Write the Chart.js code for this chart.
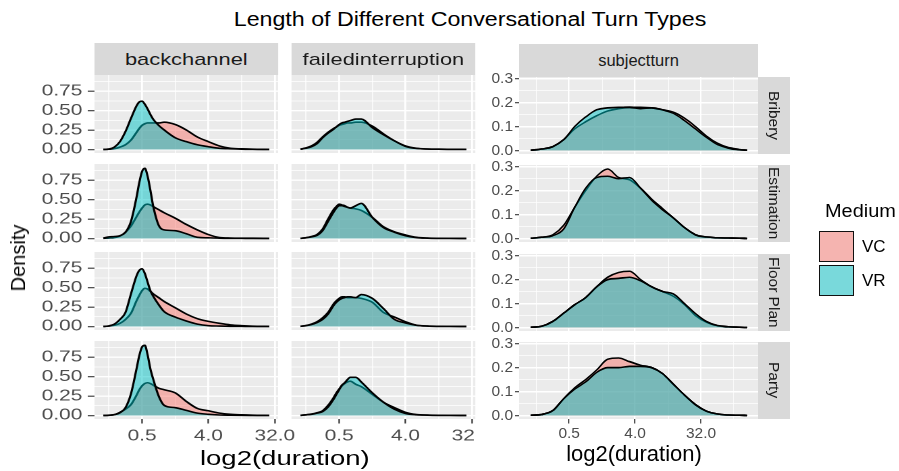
<!DOCTYPE html>
<html>
<head>
<meta charset="utf-8">
<script src="https://cdn.jsdelivr.net/npm/chart.js@4.4.0/dist/chart.umd.min.js"></script>
<style>
  body { margin: 0; background: #fff; width: 899px; height: 471px; overflow: hidden; position: relative;
         font-family: 'Liberation Sans', Arial, sans-serif; }
  canvas { position: absolute; }
  .txt { position: absolute; white-space: nowrap; line-height: 1; }
  .strip { position: absolute; background: #D9D9D9; color: #1A1A1A; display: flex; align-items: center;
           justify-content: center; white-space: nowrap; overflow: hidden; }
  #left { position: absolute; left: 0; top: 0; width: 360px; height: 471px; transform-origin: 0 0; transform: scaleX(1.35); }
  #right { position: absolute; left: 0; top: 0; width: 899px; height: 471px; }
  .key { position: absolute; left: 819px; width: 35px; height: 31px; box-sizing: border-box; border: 1.3px solid #111; background: #F2F2F2; }
</style>
</head>
<body>
<div class="txt" id="title" style="left:470px;top:9.5px;font-size:19.5px;color:#000;transform:translateX(-50%) scaleX(1.19);">Length of Different Conversational Turn Types</div>
<div id="left"></div>
<div id="right"></div>
<div class="txt" style="left:18px;top:258px;font-size:20px;color:#000;transform:translate(-50%,-50%) rotate(-90deg);">Density</div>
<div class="txt" style="left:825px;top:202.5px;font-size:17.5px;color:#000;transform-origin:0 0;transform:scaleX(1.14);">Medium</div>
<div class="key" style="top:231px;"><div style="width:100%;height:100%;background:rgba(248,118,109,0.5);"></div></div>
<div class="key" style="top:265px;"><div style="width:100%;height:100%;background:rgba(0,191,196,0.5);"></div></div>
<div class="txt" style="left:862px;top:238px;font-size:17px;color:#000;">VC</div>
<div class="txt" style="left:862px;top:272px;font-size:17px;color:#000;">VR</div>
<script>
// facets
const TURN_TYPES = ['backchannel', 'failedinterruption', 'subjectturn'];
const TASKS = ['Bribery', 'Estimation', 'Floor Plan', 'Party'];
const MEDIA = ['VC', 'VR'];

// x values are log2(duration)
const X_LEFT = [-2.75, -2.5, -2.25, -2, -1.75, -1.5, -1.25, -1.125, -1, -0.875, -0.75, -0.625, -0.5, -0.25, 0, 0.5, 1, 1.5, 2, 2.5, 3, 3.5, 4, 4.75];
const X_RIGHT = [-2.75, -2.25, -1.75, -1.25, -0.75, -0.25, 0.25, 0.75, 1.25, 1.75, 2.25, 2.75, 3.25, 3.75, 4.25, 4.75, 5.25, 5.75, 6.25, 6.75, 7.1];

// backchannel densities
const bcBriberyVC = [0, 0.003, 0.01, 0.03, 0.06, 0.12, 0.22, 0.27, 0.31, 0.33, 0.34, 0.34, 0.34, 0.34, 0.35, 0.32, 0.25, 0.16, 0.10, 0.045, 0.015, 0.008, 0.004, 0.001];
const bcBriberyVR = [0, 0.005, 0.03, 0.10, 0.23, 0.40, 0.56, 0.61, 0.62, 0.58, 0.52, 0.45, 0.39, 0.31, 0.25, 0.15, 0.10, 0.06, 0.035, 0.015, 0.008, 0.004, 0.002, 0];
const bcEstimationVC = [0.002, 0.005, 0.01, 0.03, 0.08, 0.16, 0.28, 0.34, 0.39, 0.43, 0.44, 0.43, 0.41, 0.37, 0.33, 0.26, 0.18, 0.11, 0.05, 0.012, 0.006, 0.004, 0.003, 0.001];
const bcEstimationVR = [0.005, 0.02, 0.025, 0.035, 0.08, 0.22, 0.53, 0.72, 0.86, 0.90, 0.80, 0.62, 0.42, 0.17, 0.11, 0.10, 0.06, 0.015, 0.008, 0.004, 0.002, 0.001, 0, 0];
const bcFloorPlanVC = [0, 0.004, 0.015, 0.04, 0.09, 0.17, 0.33, 0.40, 0.46, 0.49, 0.48, 0.45, 0.42, 0.37, 0.32, 0.24, 0.16, 0.10, 0.065, 0.04, 0.02, 0.01, 0.004, 0.001];
const bcFloorPlanVR = [0, 0.008, 0.03, 0.09, 0.18, 0.42, 0.65, 0.72, 0.74, 0.68, 0.57, 0.46, 0.39, 0.28, 0.19, 0.12, 0.07, 0.03, 0.01, 0.005, 0.002, 0.001, 0, 0];
const bcPartyVC = [0, 0.002, 0.01, 0.04, 0.08, 0.14, 0.26, 0.33, 0.38, 0.41, 0.42, 0.41, 0.39, 0.35, 0.33, 0.29, 0.18, 0.09, 0.06, 0.03, 0.015, 0.008, 0.004, 0.001];
const bcPartyVR = [0, 0.003, 0.01, 0.035, 0.10, 0.28, 0.60, 0.77, 0.88, 0.90, 0.78, 0.60, 0.47, 0.25, 0.13, 0.10, 0.065, 0.03, 0.015, 0.006, 0.003, 0.001, 0, 0];

// failedinterruption densities
const fiBriberyVC = [0.003, 0.02, 0.045, 0.09, 0.16, 0.22, 0.27, 0.29, 0.31, 0.32, 0.33, 0.34, 0.34, 0.35, 0.35, 0.30, 0.20, 0.11, 0.045, 0.015, 0.006, 0.003, 0.002, 0.001];
const fiBriberyVR = [0.003, 0.015, 0.035, 0.075, 0.15, 0.21, 0.26, 0.29, 0.32, 0.34, 0.35, 0.36, 0.37, 0.39, 0.39, 0.28, 0.19, 0.11, 0.04, 0.012, 0.005, 0.003, 0.002, 0.001];
const fiEstimationVC = [0.002, 0.01, 0.025, 0.05, 0.12, 0.25, 0.37, 0.41, 0.44, 0.43, 0.42, 0.40, 0.39, 0.38, 0.36, 0.27, 0.15, 0.085, 0.045, 0.015, 0.005, 0.002, 0.001, 0];
const fiEstimationVR = [0.002, 0.008, 0.02, 0.04, 0.10, 0.22, 0.34, 0.39, 0.42, 0.42, 0.41, 0.40, 0.39, 0.42, 0.45, 0.27, 0.14, 0.08, 0.035, 0.01, 0.004, 0.002, 0.001, 0];
const fiFloorPlanVC = [0.002, 0.012, 0.03, 0.06, 0.11, 0.18, 0.29, 0.33, 0.36, 0.38, 0.38, 0.37, 0.37, 0.37, 0.36, 0.31, 0.18, 0.12, 0.06, 0.015, 0.005, 0.002, 0.001, 0];
const fiFloorPlanVR = [0.002, 0.01, 0.025, 0.05, 0.09, 0.16, 0.27, 0.31, 0.34, 0.36, 0.37, 0.38, 0.38, 0.37, 0.41, 0.36, 0.23, 0.09, 0.045, 0.015, 0.005, 0.002, 0.001, 0];
const fiPartyVC = [0.002, 0.008, 0.018, 0.035, 0.06, 0.13, 0.23, 0.29, 0.34, 0.38, 0.41, 0.43, 0.44, 0.40, 0.37, 0.27, 0.17, 0.10, 0.04, 0.012, 0.005, 0.002, 0.001, 0];
const fiPartyVR = [0.002, 0.008, 0.015, 0.03, 0.05, 0.11, 0.21, 0.27, 0.33, 0.39, 0.42, 0.46, 0.49, 0.49, 0.43, 0.29, 0.17, 0.08, 0.025, 0.008, 0.004, 0.002, 0.001, 0];

// subjectturn densities
const stBriberyVC = [0.001, 0.006, 0.016, 0.045, 0.09, 0.12, 0.145, 0.165, 0.175, 0.18, 0.18, 0.178, 0.17, 0.16, 0.135, 0.10, 0.06, 0.03, 0.012, 0.004, 0.001];
const stBriberyVR = [0.001, 0.006, 0.016, 0.045, 0.10, 0.14, 0.17, 0.178, 0.18, 0.18, 0.175, 0.178, 0.17, 0.155, 0.125, 0.09, 0.055, 0.025, 0.01, 0.003, 0.001];
const stEstimationVC = [0.001, 0.005, 0.015, 0.055, 0.13, 0.20, 0.26, 0.29, 0.255, 0.245, 0.21, 0.165, 0.125, 0.085, 0.045, 0.016, 0.006, 0.003, 0.002, 0.001, 0];
const stEstimationVR = [0.001, 0.005, 0.012, 0.04, 0.13, 0.21, 0.255, 0.26, 0.25, 0.255, 0.21, 0.16, 0.12, 0.085, 0.045, 0.015, 0.006, 0.003, 0.002, 0.001, 0];
const stFloorPlanVC = [0.001, 0.005, 0.025, 0.06, 0.095, 0.125, 0.17, 0.21, 0.23, 0.235, 0.20, 0.17, 0.15, 0.13, 0.095, 0.05, 0.022, 0.007, 0.003, 0.001, 0];
const stFloorPlanVR = [0.001, 0.005, 0.025, 0.06, 0.095, 0.125, 0.17, 0.20, 0.205, 0.21, 0.195, 0.17, 0.15, 0.14, 0.10, 0.058, 0.025, 0.008, 0.003, 0.001, 0];
const stPartyVC = [0.001, 0.004, 0.02, 0.07, 0.115, 0.15, 0.19, 0.235, 0.24, 0.225, 0.21, 0.2, 0.175, 0.13, 0.085, 0.045, 0.018, 0.006, 0.002, 0.001, 0];
const stPartyVR = [0.001, 0.004, 0.02, 0.07, 0.11, 0.14, 0.18, 0.20, 0.20, 0.205, 0.205, 0.2, 0.175, 0.13, 0.085, 0.045, 0.018, 0.006, 0.002, 0.001, 0];

// ticks
const X_MAJOR = [-1, 2, 5];            // 0.5, 4.0, 32.0
const X_GRID = [-2.5, -1, 0.5, 2, 3.5, 5, 6.5];
const LEFT_Y_MAJOR = [0, 0.25, 0.5, 0.75];
const LEFT_Y_GRID = [0, 0.125, 0.25, 0.375, 0.5, 0.625, 0.75, 0.875];
const RIGHT_Y_MAJOR = [0, 0.1, 0.2, 0.3];
const RIGHT_Y_GRID = [0, 0.05, 0.1, 0.15, 0.2, 0.25, 0.3];

const SERIES = {
  backchannel: [[bcBriberyVC, bcBriberyVR], [bcEstimationVC, bcEstimationVR], [bcFloorPlanVC, bcFloorPlanVR], [bcPartyVC, bcPartyVR]],
  failedinterruption: [[fiBriberyVC, fiBriberyVR], [fiEstimationVC, fiEstimationVR], [fiFloorPlanVC, fiFloorPlanVR], [fiPartyVC, fiPartyVR]],
  subjectturn: [[stBriberyVC, stBriberyVR], [stEstimationVC, stEstimationVR], [stFloorPlanVC, stFloorPlanVR], [stPartyVC, stPartyVR]]
};

const FONT = "'Liberation Sans', Arial, sans-serif";
const FILLS = ['rgba(248,118,109,0.5)', 'rgba(0,191,196,0.5)'];
const PADV = 9; // room above/below each panel so edge tick labels are not cut

// grey panel background
const panelBg = {
  id: 'panelBg',
  beforeDraw(chart) {
    const { ctx, chartArea: a } = chart;
    ctx.save();
    ctx.fillStyle = '#EBEBEB';
    ctx.fillRect(a.left, a.top, a.right - a.left, a.bottom - a.top);
    ctx.restore();
  }
};

const isIn = (v, arr) => arr.some(a => Math.abs(a - v) < 1e-9);

const gridOpts = (major, showTicks, tickLen) => ({
  color: '#FFFFFF',
  lineWidth: c => (c.tick && isIn(c.tick.value, major)) ? 1.4 : 0.7,
  drawTicks: showTicks,
  tickLength: tickLen,
  tickWidth: 1.1,
  tickColor: c => (c.tick && isIn(c.tick.value, major)) ? '#333333' : 'rgba(0,0,0,0)'
});

const buildPanel = (host, p) => {
  const cv = document.createElement('canvas');
  cv.width = p.w;
  cv.height = p.h + 2 * PADV;
  cv.style.left = p.left + 'px';
  cv.style.top = (p.top - PADV) + 'px';
  host.appendChild(cv);

  const datasets = MEDIA.map((m, k) => ({
    label: m,
    data: p.xs.map((x, i) => ({ x: x, y: p.ys[k][i] })),
    borderColor: '#000000',
    borderWidth: 1.6,
    backgroundColor: FILLS[k],
    fill: 'origin',
    pointRadius: 0,
    cubicInterpolationMode: 'monotone',
    order: 2 - k
  }));

  new Chart(cv, {
    type: 'line',
    data: { datasets: datasets },
    options: {
      responsive: false,
      animation: false,
      events: [],
      devicePixelRatio: p.dpr,
      layout: { autoPadding: false, padding: { left: 0, top: PADV, bottom: PADV, right: p.padRight } },
      plugins: { legend: { display: false }, tooltip: { enabled: false } },
      scales: {
        x: {
          type: 'linear', min: p.xMin, max: p.xMax,
          afterBuildTicks: s => { s.ticks = X_GRID.filter(v => v > p.xMin && v < p.xMax).map(v => ({ value: v })); },
          afterFit: s => { s.height = p.xAxisH; s.paddingLeft = 0; s.paddingRight = 0; },
          border: { display: false },
          grid: gridOpts(X_MAJOR, p.showX, 4.5),
          ticks: {
            display: p.showX, autoSkip: false, maxRotation: 0, minRotation: 0, padding: p.xPad,
            color: '#4D4D4D', font: { family: FONT, size: p.fontSize },
            callback: v => isIn(v, X_MAJOR) ? Math.pow(2, v).toFixed(1) : ''
          }
        },
        y: {
          type: 'linear', min: p.yMin, max: p.yMax,
          afterBuildTicks: s => { s.ticks = p.yGrid.map(v => ({ value: v })); },
          afterFit: s => { s.width = p.yAxisW; s.paddingTop = 0; s.paddingBottom = 0; },
          border: { display: false },
          grid: gridOpts(p.yMajor, p.showY, p.yTickLen),
          ticks: {
            display: p.showY, autoSkip: false, padding: p.yPad,
            color: '#4D4D4D', font: { family: FONT, size: p.fontSize },
            callback: v => isIn(v, p.yMajor) ? v.toFixed(p.yDigits) : ''
          }
        }
      }
    },
    plugins: [panelBg]
  });
};

const addStrip = (host, text, css) => {
  const d = document.createElement('div');
  d.className = 'strip';
  d.textContent = text;
  Object.assign(d.style, css);
  host.appendChild(d);
  return d;
};

const addText = (host, text, css) => {
  const d = document.createElement('div');
  d.className = 'txt';
  d.textContent = text;
  Object.assign(d.style, css);
  host.appendChild(d);
};

// left grid (backchannel, failedinterruption), drawn inside a horizontally stretched block
const left = document.getElementById('left');
const LEFT_TOPS = [75, 164, 252, 341];
const LEFT_H = 78, LEFT_W = 136;
const LEFT_COLS = [70, 216];

[0, 1].forEach(c => {
  addStrip(left, TURN_TYPES[c], { left: LEFT_COLS[c] + 'px', top: '43px', width: LEFT_W + 'px', height: '32px', fontSize: '16.2px' });
  TASKS.forEach((t, r) => {
    const bottom = r === TASKS.length - 1;
    const yAxisW = c === 0 ? LEFT_COLS[0] : 0;
    const padRight = (bottom && c === 0) ? 16 : 0;
    buildPanel(left, {
      left: LEFT_COLS[c] - yAxisW, top: LEFT_TOPS[r],
      w: yAxisW + LEFT_W + padRight, h: LEFT_H + (bottom ? 30 : 0),
      yAxisW: yAxisW, xAxisH: bottom ? 30 : 0, padRight: padRight,
      xMin: -3.15, xMax: 5.15, yMin: -0.0455, yMax: 0.956,
      yGrid: LEFT_Y_GRID, yMajor: LEFT_Y_MAJOR, yDigits: 2,
      showX: bottom, showY: c === 0, yTickLen: 5, yPad: 4, xPad: 3.5,
      fontSize: 15.5, dpr: 2,
      xs: X_LEFT, ys: SERIES[TURN_TYPES[c]][r]
    });
  });
});
addText(left, 'log2(duration)', { left: '61px', width: '300px', textAlign: 'center', top: '447.5px', fontSize: '20.4px', color: '#000' });

// right grid (subjectturn)
const right = document.getElementById('right');
const RIGHT_TOPS = [77, 165, 254, 342];
const RIGHT_H = 77, RIGHT_W = 239, RIGHT_X = 519;

addStrip(right, TURN_TYPES[2], { left: RIGHT_X + 'px', top: '44px', width: RIGHT_W + 'px', height: '33px', fontSize: '16.5px' });
TASKS.forEach((t, r) => {
  const bottom = r === TASKS.length - 1;
  addStrip(right, t, { left: (RIGHT_X + RIGHT_W) + 'px', top: RIGHT_TOPS[r] + 'px', width: '32px', height: RIGHT_H + 'px',
    fontSize: '15.5px', writingMode: 'vertical-rl' });
  buildPanel(right, {
    left: RIGHT_X - 40, top: RIGHT_TOPS[r],
    w: 40 + RIGHT_W, h: RIGHT_H + (bottom ? 30 : 0),
    yAxisW: 40, xAxisH: bottom ? 30 : 0, padRight: 0,
    xMin: -3.285, xMax: 7.595, yMin: -0.0146, yMax: 0.307,
    yGrid: RIGHT_Y_GRID, yMajor: RIGHT_Y_MAJOR, yDigits: 1,
    showX: bottom, showY: true, yTickLen: 4, yPad: 2, xPad: 0.5,
    fontSize: 15.5, dpr: 1,
    xs: X_RIGHT, ys: SERIES[TURN_TYPES[2]][r]
  });
});
addText(right, 'log2(duration)', { left: '484px', width: '300px', textAlign: 'center', top: '442.5px', fontSize: '22px', color: '#000' });
</script>
</body>
</html>
